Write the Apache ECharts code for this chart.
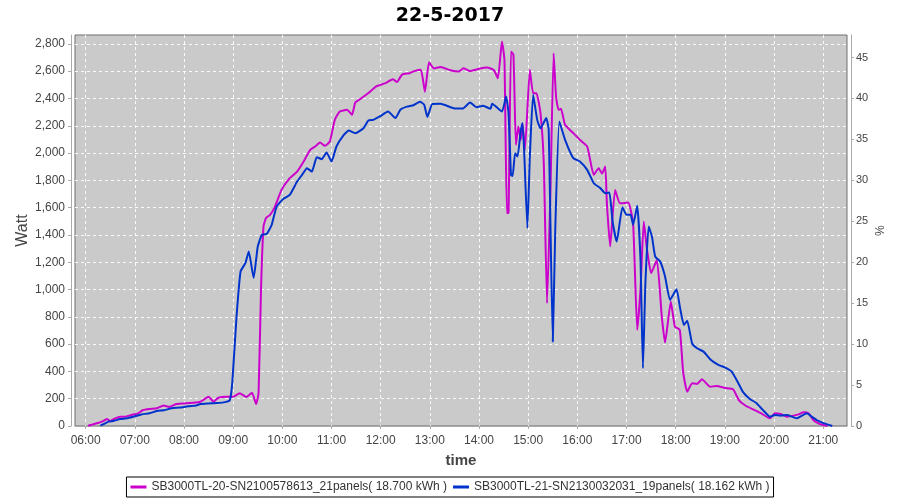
<!DOCTYPE html>
<html>
<head>
<meta charset="utf-8">
<script src="https://cdn.jsdelivr.net/npm/echarts@6/dist/echarts.min.js"></script>
<style>
  html, body { margin: 0; padding: 0; background: #fff; }
  #chart { width: 900px; height: 500px; }
</style>
</head>
<body>
<div id="chart"></div>
<script>
// SB3000TL-20 (magenta)
const magentaTimes = ['06:03','06:09','06:15','06:20','06:26','06:30','06:36','06:42','06:48','06:56',
  '07:04','07:10','07:18','07:27','07:35','07:42','07:50','08:00','08:10','08:20','08:30','08:36','08:42','08:52',
  '09:00','09:08','09:16','09:23','09:28','09:31','09:34','09:37','09:40','09:45','09:51','09:59',
  '10:09','10:18','10:26','10:34','10:40','10:46','10:52','10:58','11:04','11:10','11:19','11:25','11:29','11:36','11:45','11:55',
  '12:05','12:15','12:20','12:26','12:35','12:41','12:49','12:54','12:59','13:05','13:13','13:25','13:35','13:41','13:49','13:59',
  '14:10','14:18','14:23','14:28','14:31','14:34','14:36','14:39','14:42','14:45','14:48','14:51','14:53','14:56',
  '15:02','15:06','15:10','15:15','15:19','15:23','15:27','15:31','15:34','15:37','15:40','15:45','15:55',
  '16:03','16:12','16:20','16:26','16:30','16:34','16:36','16:40','16:46','16:52',
  '17:02','17:08','17:13','17:17','17:21','17:25','17:30','17:37','17:43','17:47','17:54','17:59',
  '18:05','18:09','18:14','18:20','18:26','18:32','18:42','18:50',
  '19:00','19:10','19:17','19:25','19:35','19:45','19:55','20:01','20:08','20:16','20:24','20:30','20:36','20:42','20:48','20:54','21:00','21:05']
const magentaWatts = [2,12,22,32,51,37,56,68,68,81,
  93,117,125,130,150,140,160,165,170,178,215,178,207,215,
  215,240,213,244,161,244,1009,1461,1523,1547,1608,1730,
  1816,1864,1938,2023,2048,2077,2053,2085,2243,2304,2317,2280,2370,2400,2440,2490,
  2510,2540,2520,2575,2585,2600,2610,2450,2665,2620,2630,2607,2597,2621,2601,2616,
  2626,2609,2548,2817,2683,1559,1562,2744,2720,2060,2194,2097,2219,2023,
  2610,2439,2439,2292,1926,900,1681,2732,2414,2317,2324,2207,2146,
  2097,2048,1840,1889,1850,1901,1632,1315,1730,1632,
  1637,1486,704,997,1498,1290,1120,1217,801,611,912,728,
  704,398,251,313,308,342,288,293,
  279,270,190,150,120,90,56,93,88,68,76,85,100,93,44,20,7,0]

// SB3000TL-21 (blue)
const blueTimes = ['06:18','06:24','06:28','06:34','06:42','06:50','06:58','07:08','07:18','07:27','07:35','07:45','07:55',
  '08:05','08:15','08:20','08:30','08:40','08:50','08:56','08:59','09:04','09:09','09:15','09:19','09:25','09:30','09:35','09:41','09:47','09:53',
  '10:01','10:09','10:18','10:24','10:30','10:36','10:42','10:48','10:54','11:00','11:06','11:15','11:21','11:29','11:39','11:45','11:51','11:59',
  '12:09','12:18','12:24','12:32','12:40','12:48','12:53','12:57','13:03','13:13','13:29','13:40','13:49','13:57',
  '14:05','14:14','14:16','14:28','14:33','14:36','14:39','14:41','14:44','14:47','14:51','14:53','14:55','14:59',
  '15:02','15:06','15:11','15:15','15:22','15:25','15:30','15:33','15:38','15:45','15:55',
  '16:03','16:12','16:20','16:28','16:34','16:39','16:43','16:48','16:55',
  '17:00','17:05','17:08','17:13','17:17','17:20','17:23','17:27','17:31','17:35','17:41','17:47','17:53',
  '18:01','18:05','18:10','18:14','18:20','18:26','18:34','18:42','18:52',
  '19:00','19:08','19:15','19:22','19:30','19:38','19:46','19:55','20:01','20:08','20:16','20:22','20:28','20:34','20:40','20:46','20:52','20:58','21:05','21:11']
const blueWatts = [2,20,32,37,51,56,68,85,93,110,115,130,135,
  145,150,161,165,168,175,190,325,792,1131,1195,1278,1085,1315,1400,1408,1474,1608,
  1664,1693,1791,1840,1889,1864,1970,1955,2004,1938,2048,2133,2165,2146,2182,2238,2243,2268,
  2304,2256,2317,2340,2350,2375,2355,2265,2360,2361,2329,2326,2370,2336,
  2346,2324,2361,2304,2414,2292,1840,1832,1999,1975,2170,2219,2023,1449,
  1975,2427,2243,2182,2256,2170,618,1437,2231,2097,1963,
  1938,1877,1779,1743,1706,1711,1498,1351,1603,
  1547,1547,1474,1613,1217,423,1046,1461,1388,1241,1205,1095,924,
  1002,875,740,772,606,570,545,489,447,
  430,400,330,250,200,170,120,68,80,76,80,68,56,76,93,68,44,27,12,0]

const hourTicks = ['06:00','07:00','08:00','09:00','10:00','11:00','12:00','13:00','14:00','15:00','16:00','17:00','18:00','19:00','20:00','21:00']
const wattTicks = [0,200,400,600,800,1000,1200,1400,1600,1800,2000,2200,2400,2600,2800]
const pctTicks = [0,5,10,15,20,25,30,35,40,45]

const toMin = s => {
  const [h, m] = s.split(':').map(Number)
  return h * 60 + m
}
const fmtTime = v => {
  const h = Math.floor(v / 60), m = Math.round(v % 60)
  return String(h).padStart(2, '0') + ':' + String(m).padStart(2, '0')
}

const font = 'Liberation Sans'
const chart = echarts.init(document.getElementById('chart'), null, { renderer: 'canvas' })

const gridLine = { show: true, lineStyle: { color: '#ffffff', type: [3, 3], width: 1, opacity: 0.9 } }

chart.setOption({
  animation: false,
  backgroundColor: '#ffffff',
  title: {
    text: '22-5-2017',
    left: 'center',
    top: 2,
    textStyle: { fontFamily: 'DejaVu Sans', fontSize: 19, fontWeight: 'bold', color: '#000' }
  },
  grid: {
    left: 75, right: 53, top: 35, bottom: 74,
    show: true,
    backgroundColor: '#cacaca',
    borderColor: '#6e6e6e',
    borderWidth: 1
  },
  legend: {
    bottom: 3,
    left: 'center',
    padding: [4, 4],
    itemGap: 6,
    itemWidth: 16,
    itemHeight: 3,
    icon: 'rect',
    borderColor: '#000',
    borderWidth: 1,
    textStyle: { fontFamily: font, fontSize: 12, color: '#333' },
    data: ['SB3000TL-20-SN2100578613_21panels( 18.700 kWh )', 'SB3000TL-21-SN2130032031_19panels( 18.162 kWh )']
  },
  xAxis: {
    type: 'value',
    min: 347,
    max: 1289,
    offset: 4,
    name: 'time',
    nameLocation: 'middle',
    nameGap: 23,
    nameTextStyle: { fontFamily: font, fontSize: 15, fontWeight: 'bold', color: '#444' },
    axisLine: { show: true, lineStyle: { color: '#aaaaaa' } },
    axisTick: { show: true, length: 3, lineStyle: { color: '#aaaaaa' }, customValues: hourTicks.map(toMin) },
    axisLabel: { color: '#444', fontFamily: font, fontSize: 12, margin: 5, formatter: fmtTime, customValues: hourTicks.map(toMin) },
    splitLine: gridLine
  },
  yAxis: [
    {
      type: 'value',
      min: 0,
      max: 2865,
      offset: 4,
      name: 'Watt',
      nameLocation: 'middle',
      nameGap: 40,
      nameMoveOverlap: false,
      nameTextStyle: { fontFamily: font, fontSize: 16, color: '#444' },
      axisLine: { show: true, lineStyle: { color: '#aaaaaa' } },
      axisTick: { show: true, length: 3, lineStyle: { color: '#aaaaaa' }, customValues: wattTicks },
      axisLabel: {
        color: '#444', fontFamily: font, fontSize: 12, margin: 6,
        customValues: wattTicks,
        formatter: v => v.toLocaleString('en-US')
      },
      splitLine: gridLine
    },
    {
      type: 'value',
      position: 'right',
      min: 0,
      max: 47.75,
      offset: 4,
      name: '%',
      nameLocation: 'middle',
      nameGap: 21,
      nameMoveOverlap: false,
      nameRotate: -90,
      nameTextStyle: { fontFamily: font, fontSize: 12, color: '#444' },
      axisLine: { show: true, lineStyle: { color: '#aaaaaa' } },
      axisTick: { show: true, length: 3, lineStyle: { color: '#aaaaaa' }, customValues: pctTicks },
      axisLabel: { color: '#444', fontFamily: font, fontSize: 11, margin: 5, customValues: pctTicks },
      splitLine: { show: false }
    }
  ],
  series: [
    {
      name: 'SB3000TL-20-SN2100578613_21panels( 18.700 kWh )',
      type: 'line',
      symbol: 'none',
      smooth: 0.15,
      color: '#cc00cc',
      lineStyle: { width: 2, color: '#cc00cc' },
      data: magentaTimes.map((t, i) => [toMin(t), magentaWatts[i]])
    },
    {
      name: 'SB3000TL-21-SN2130032031_19panels( 18.162 kWh )',
      type: 'line',
      symbol: 'none',
      smooth: 0.15,
      color: '#0033cc',
      lineStyle: { width: 2, color: '#0033cc' },
      data: blueTimes.map((t, i) => [toMin(t), blueWatts[i]])
    }
  ]
})
</script>
</body>
</html>
